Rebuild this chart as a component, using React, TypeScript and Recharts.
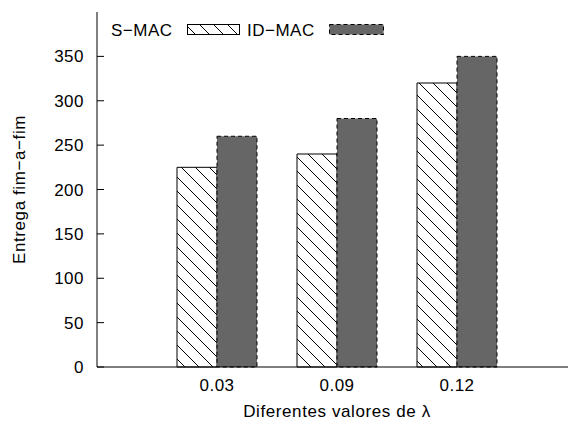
import React from 'react';
import { BarChart, Bar, XAxis, YAxis, Legend } from 'recharts';

const lambdaLabels = ['0.03', '0.09', '0.12'];
const sMacValues = [225, 240, 320];
const idMacValues = [260, 280, 350];
const yTicks = [0, 50, 100, 150, 200, 250, 300, 350];

const chartData = lambdaLabels.map((lambda, i) => ({
  lambda,
  sMac: sMacValues[i],
  idMac: idMacValues[i],
}));

const FONT = '"Liberation Sans", Arial, Helvetica, sans-serif';
const GRAY = '#666666';
const tickStyle = { fontSize: 17, fill: '#000', fontFamily: FONT, letterSpacing: 0.5 };
const xPadding = { left: 60, right: 60 };

const PatternDefs = () => (
  <svg width={0} height={0} style={{ position: 'absolute' }}>
    <defs>
      <pattern id="hatch" patternUnits="userSpaceOnUse" width={14} height={14}>
        <rect width={14} height={14} fill="#fff" />
        <path d="M0,0 L14,14 M-1,13 L1,15 M13,-1 L15,1" stroke="#000" strokeWidth={1} />
      </pattern>
    </defs>
  </svg>
);

// gnuplot-style key: label then sample box
const KeyContent = (props: any) => {
  const items = props.payload || [];
  const nameOf = (key: string) => {
    const it = items.find((p: any) => p.dataKey === key);
    return it ? it.value : '';
  };
  return (
    <svg width={290} height={20} style={{ display: 'block', fontFamily: FONT }}>
      <text x={0} y={16} fontSize={17} style={{ letterSpacing: 0.5 }}>{nameOf('sMac')}</text>
      <rect x={76.5} y={4.5} width={52} height={10} fill="url(#hatch)" stroke="#000" />
      <text x={136} y={16} fontSize={17} style={{ letterSpacing: 0.5 }}>{nameOf('idMac')}</text>
      <rect x={218.5} y={4.5} width={54} height={10} fill={GRAY} stroke="#000" strokeDasharray="4 3" />
    </svg>
  );
};

export default function App() {
  return (
    <div
      style={{
        position: 'absolute',
        left: 0,
        top: 0,
        width: 568,
        height: 424,
        overflow: 'hidden',
        background: '#fff',
      }}
    >
      <PatternDefs />
      <BarChart
        width={600}
        height={424}
        data={chartData}
        margin={{ top: 12, right: 23, bottom: 0, left: 0 }}
        barGap={0}
        barSize={40}
      >
        <XAxis
          dataKey="lambda"
          height={57}
          padding={xPadding}
          tickLine={false}
          tickSize={0}
          tickMargin={12}
          tick={tickStyle}
          axisLine={{ stroke: '#000' }}
          label={{
            value: 'Diferentes valores de λ',
            position: 'insideBottom',
            offset: 7,
            style: { fontSize: 17, fill: '#000', fontFamily: FONT, letterSpacing: 0.6 },
          }}
        />
        <XAxis
          xAxisId="top"
          dataKey="lambda"
          orientation="top"
          height={0}
          padding={xPadding}
          tick={false}
          tickSize={-7}
          tickLine={{ stroke: '#000' }}
          axisLine={{ stroke: '#000' }}
        />
        <YAxis
          width={97}
          domain={[0, 400]}
          ticks={yTicks}
          interval={0}
          tickSize={-7}
          tickMargin={20}
          tick={tickStyle}
          tickLine={{ stroke: '#000' }}
          axisLine={{ stroke: '#000' }}
          label={{
            value: 'Entrega fim−a−fim',
            angle: -90,
            position: 'insideLeft',
            offset: 19,
            style: { fontSize: 17, fill: '#000', fontFamily: FONT, textAnchor: 'middle', letterSpacing: 0.6 },
          }}
        />
        <Legend
          layout="horizontal"
          verticalAlign="middle"
          align="center"
          wrapperStyle={{ top: 20, left: 111, width: 'auto', height: 20 }}
          content={KeyContent}
        />
        <Bar
          dataKey="sMac"
          name="S−MAC"
          fill="url(#hatch)"
          stroke="#000"
          strokeWidth={1}
          isAnimationActive={false}
        />
        <Bar
          dataKey="idMac"
          name="ID−MAC"
          fill={GRAY}
          stroke="#000"
          strokeWidth={1}
          strokeDasharray="4 3"
          isAnimationActive={false}
        />
      </BarChart>
    </div>
  );
}
